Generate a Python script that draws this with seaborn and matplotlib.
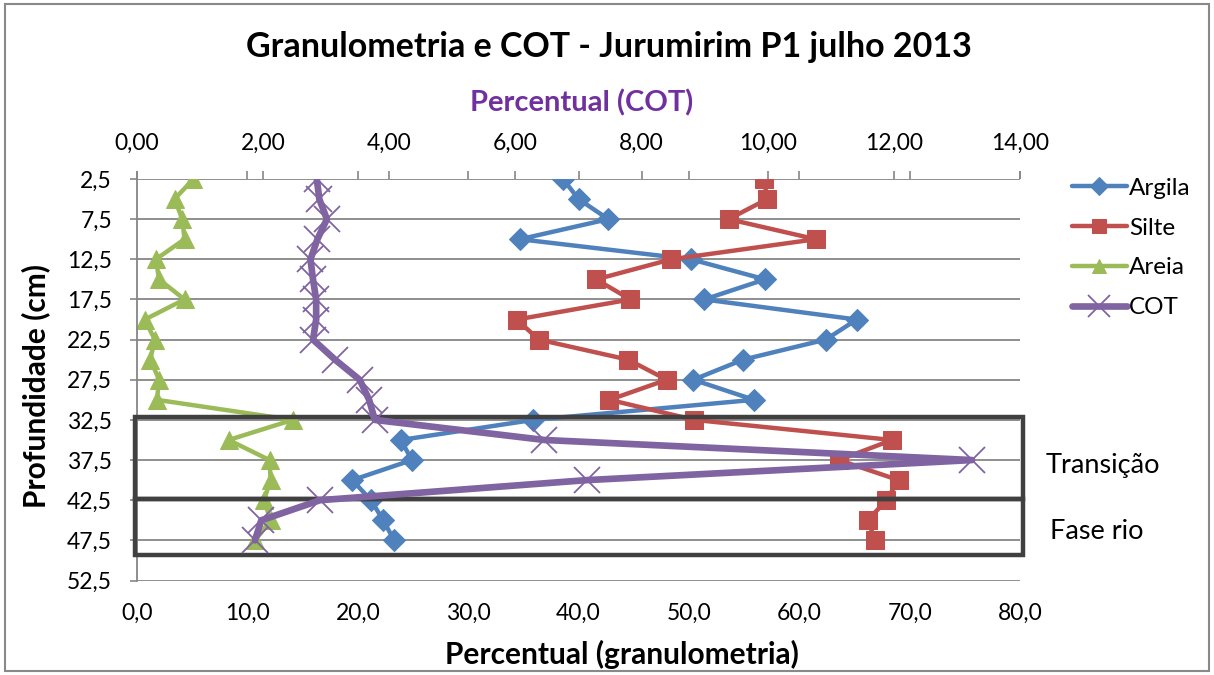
import numpy as np
import pandas as pd
import seaborn as sns
import matplotlib.pyplot as plt
from matplotlib.patches import Rectangle

# Depth of each sample (cm)
depth = [2.5, 5.0, 7.5, 10.0, 12.5, 15.0, 17.5, 20.0, 22.5, 25.0,
         27.5, 30.0, 32.5, 35.0, 37.5, 40.0, 42.5, 45.0, 47.5]

# Granulometria (%)
argila = [38.6, 40.0, 42.7, 34.7, 50.2, 56.9, 51.4, 65.2, 62.4, 54.9,
          50.4, 55.9, 35.9, 23.9, 24.9, 19.5, 21.2, 22.3, 23.3]
silte = [56.8, 57.1, 53.6, 61.5, 48.4, 41.6, 44.7, 34.4, 36.4, 44.5,
         48.0, 42.8, 50.5, 68.4, 63.6, 69.0, 67.9, 66.2, 66.9]
areia = [5.1, 3.4, 4.1, 4.3, 1.7, 2.0, 4.3, 0.7, 1.6, 1.2,
         2.0, 1.8, 14.1, 8.3, 12.0, 12.1, 11.5, 12.1, 10.7]

# COT (%)
cot = [2.85, 2.89, 3.01, 2.86, 2.75, 2.79, 2.84, 2.84, 2.79, 3.14,
       3.53, 3.68, 3.77, 6.46, 13.24, 7.13, 2.90, 1.97, 1.87]

# ticks
depth_ticks = [2.5, 7.5, 12.5, 17.5, 22.5, 27.5, 32.5, 37.5, 42.5, 47.5, 52.5]
gran_ticks = [0, 10, 20, 30, 40, 50, 60, 70, 80]
cot_ticks = [0, 2, 4, 6, 8, 10, 12, 14]

# zones drawn as boxes (depth limits)
zones = [('Transição', 32.2, 42.4), ('Fase rio', 42.4, 49.3)]

df = pd.DataFrame({'depth': depth, 'Argila': argila, 'Silte': silte,
                   'Areia': areia, 'COT': cot})

sns.set_style('white')
plt.rcParams['font.family'] = ['Lato', 'DejaVu Sans']
plt.rcParams['text.color'] = 'black'

grey = '#868686'

fig = plt.figure(figsize=(12.14, 6.75), dpi=100)
ax = fig.add_axes([0.1129, 0.14, 0.7273, 0.5948])
ax2 = ax.twiny()

styles = [('Argila', '#4F81BD', 'D', 11), ('Silte', '#C0504D', 's', 12.5),
          ('Areia', '#9BBB59', '^', 12.5)]
for name, color, marker, ms in styles:
    sns.lineplot(data=df, x=name, y='depth', orient='y', sort=False,
                 estimator=None, ax=ax, color=color, lw=3.2, marker=marker,
                 markersize=ms, markeredgecolor=color, label=name)

sns.lineplot(data=df, x='COT', y='depth', orient='y', sort=False,
             estimator=None, ax=ax2, color='#8064A2', lw=4.8, marker='x',
             markersize=19, markeredgewidth=1.3, markeredgecolor='#8064A2',
             label='COT')

# axes limits and ticks
ax.set_xlim(0, 80)
ax2.set_xlim(0, 14)
ax.set_ylim(52.5, 2.5)

ax.set_yticks(depth_ticks)
ax.set_yticklabels([f'{d:.1f}'.replace('.', ',') for d in depth_ticks])
ax.set_xticks(gran_ticks)
ax.set_xticklabels([f'{v:.1f}'.replace('.', ',') for v in gran_ticks])
ax2.set_xticks(cot_ticks)
ax2.set_xticklabels([f'{v:.2f}'.replace('.', ',') for v in cot_ticks])

ax.tick_params(axis='x', bottom=False, top=True, labelbottom=True,
               labeltop=False, direction='out', length=6, width=1.2,
               color=grey, labelcolor='black', labelsize=16.5, pad=10)
ax.tick_params(axis='y', left=True, length=5, width=1.2, color=grey,
               labelcolor='black', labelsize=16.5, pad=13)
ax2.tick_params(axis='x', top=True, direction='out', length=6, width=1.2,
                color=grey, labelcolor='black', labelsize=16.5, pad=12)

ax.set_xlabel('')
ax.set_ylabel('')
ax2.set_xlabel('')
ax2.set_ylabel('')

ax.yaxis.grid(True, color=grey, lw=1.3)
ax.xaxis.grid(False)
ax2.grid(False)
for s in ['top', 'right', 'bottom']:
    ax.spines[s].set_visible(False)
ax.spines['left'].set_color(grey)
ax.spines['left'].set_linewidth(1.3)
for s in ax2.spines.values():
    s.set_visible(False)

# zone boxes
for label, top, bottom in zones:
    ax.add_patch(Rectangle((-0.15, top), 80.4, bottom - top, fill=False,
                           ec='#404040', lw=3.2, clip_on=False, zorder=6))
fig.text(0.9086, 0.311, 'Transição', fontsize=19.5, ha='center', va='center')
fig.text(0.9036, 0.212, 'Fase rio', fontsize=19.5, ha='center', va='center')

# legend
h1, l1 = ax.get_legend_handles_labels()
h2, l2 = ax2.get_legend_handles_labels()
ax.get_legend().remove()
ax2.get_legend().remove()
fig.legend(h1 + h2, l1 + l2, loc='upper left',
           bbox_to_anchor=(1050 / 1214, 1 - 156 / 675), frameon=False,
           fontsize=17.5, handlelength=2.26, labelspacing=0.77,
           handletextpad=0.1, markerscale=0.8)

# titles
fig.text(0.502, 0.930, 'Granulometria e COT - Jurumirim P1 julho 2013',
         fontsize=24.5, fontweight='bold', ha='center', va='center')
fig.text(0.479, 0.847, 'Percentual (COT)', fontsize=21, fontweight='bold',
         color='#7030A0', ha='center', va='center')
fig.text(0.512, 0.030, 'Percentual (granulometria)', fontsize=21.5,
         fontweight='bold', ha='center', va='center')
fig.text(0.029, 0.428, 'Profundidade (cm)', fontsize=21.5, fontweight='bold',
         rotation=90, ha='center', va='center')

# outer frame
fig.add_artist(Rectangle((0.004, 0.006), 0.992, 0.988,
                         transform=fig.transFigure, fill=False,
                         ec='#898989', lw=1.5))

fig.savefig('out.png', dpi=100)
